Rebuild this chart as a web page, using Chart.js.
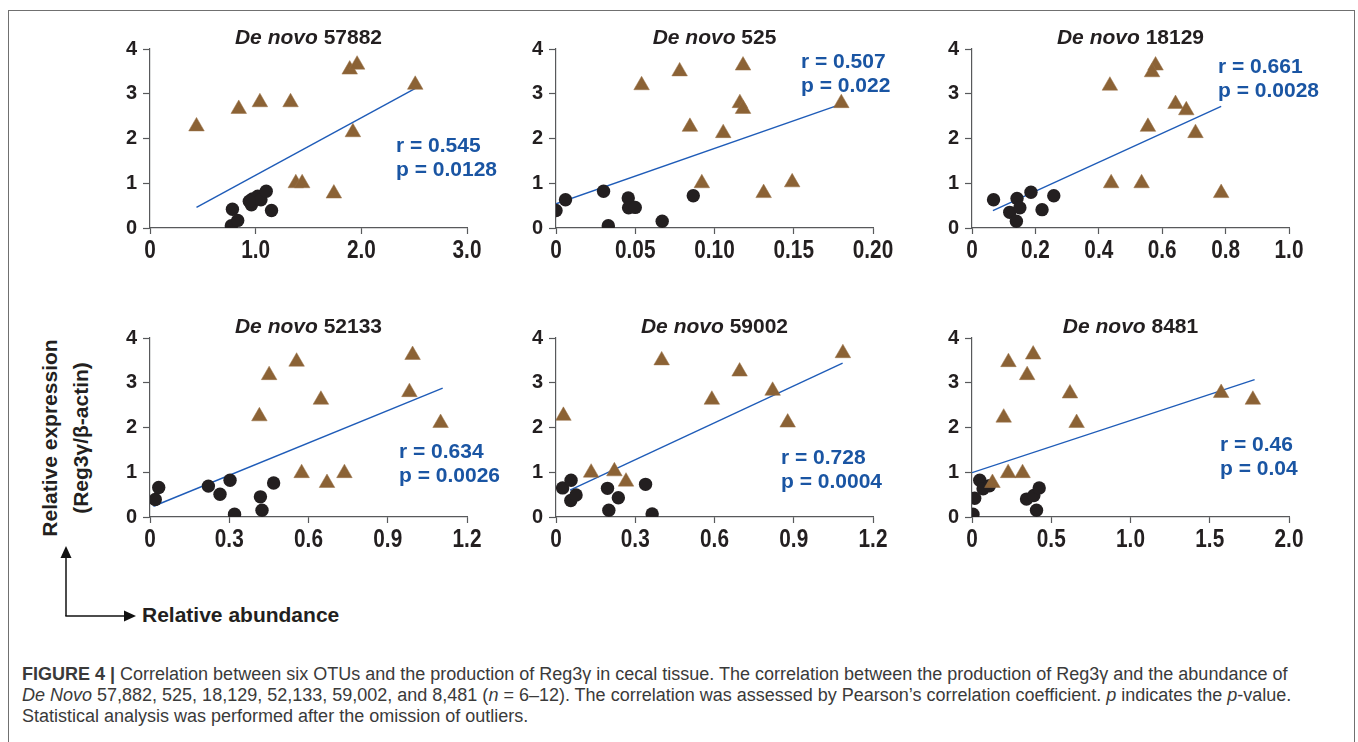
<!DOCTYPE html>
<html>
<head>
<meta charset="utf-8">
<title>Figure 4 - Reg3γ correlation</title>
<script src="https://cdn.jsdelivr.net/npm/chart.js@4.4.1/dist/chart.umd.min.js"></script>
<style>
  html, body { margin: 0; padding: 0; background: #fff; }
  body { width: 1358px; height: 742px; position: relative; overflow: hidden; font-family: "Liberation Sans", Arial, sans-serif; }
  .frame { position: absolute; left: 8px; top: 10px; width: 1347px; height: 800px; border: 1.5px solid #707070; box-sizing: border-box; }
  .panel { position: absolute; width: 387px; height: 240px; }
  .title { position: absolute; width: 317px; text-align: center; font-weight: bold; font-size: 21px; line-height: 21px; color: #231f20; white-space: nowrap; }
  .stat { position: absolute; font-weight: bold; font-size: 21px; line-height: 24px; color: #1a55a3; white-space: nowrap; }
  .ylabel { position: absolute; left: -55px; top: 407px; width: 240px; height: 62px; text-align: center; font-weight: bold; font-size: 21px; line-height: 31px; color: #231f20; transform: rotate(-90deg); white-space: nowrap; }
  .xlabel { position: absolute; left: 142px; top: 603px; font-weight: bold; font-size: 21px; line-height: 24px; color: #231f20; white-space: nowrap; }
  .caption { position: absolute; left: 22px; top: 664px; font-size: 18px; line-height: 21px; color: #3a3a3a; white-space: nowrap; }
</style>
</head>
<body>
<div class="frame"></div>

<div class="ylabel">Relative expression<br>(Reg3γ/β-actin)</div>
<svg style="position:absolute;left:0;top:0" width="200" height="640">
  <line x1="66" y1="557" x2="66" y2="616" stroke="#111" stroke-width="1.5"/>
  <polygon points="66,546 60.5,558 71.5,558" fill="#111"/>
  <line x1="65.3" y1="616" x2="125" y2="616" stroke="#111" stroke-width="1.5"/>
  <polygon points="136,616 124,610.5 124,621.5" fill="#111"/>
</svg>
<div class="xlabel">Relative abundance</div>

<div class="caption"><b>FIGURE 4 |</b> Correlation between six OTUs and the production of Reg3γ in cecal tissue. The correlation between the production of Reg3γ and the abundance of<br><i>De Novo</i> 57,882, 525, 18,129, 52,133, 59,002, and 8,481 (<i>n</i> = 6–12). The correlation was assessed by Pearson’s correlation coefficient. <i>p</i> indicates the <i>p</i>-value.<br>Statistical analysis was performed after the omission of outliers.</div>

<script>
/********************************************
 * Data                  *
 ********************************************/
const yTicks = [0, 1, 2, 3, 4];
const yTickLabels = ['0', '1', '2', '3', '4'];

// De novo 57882
const tri57882 = [[0.44, 2.27], [0.84, 2.66], [1.04, 2.81], [1.33, 2.81], [1.89, 3.54], [1.96, 3.65], [2.51, 3.2], [1.92, 2.14], [1.38, 1.0], [1.44, 1.0], [1.74, 0.77]];
const circ57882 = [[0.78, 0.42], [0.77, 0.05], [0.83, 0.17], [0.97, 0.65], [0.96, 0.52], [1.02, 0.71], [1.05, 0.63], [0.94, 0.6], [1.10, 0.82], [1.15, 0.39]];
const fit57882 = [[0.44, 0.46], [2.52, 3.13]];
const xTicks57882 = [0, 1, 2, 3];
const xLabels57882 = ['0', '1.0', '2.0', '3.0'];

// De novo 525
const tri525 = [[0.054, 3.19], [0.078, 3.5], [0.118, 3.63], [0.116, 2.79], [0.118, 2.66], [0.0845, 2.26], [0.1055, 2.12], [0.092, 1.0], [0.131, 0.78], [0.149, 1.02], [0.180, 2.79]];
const circ525 = [[0.0, 0.39], [0.006, 0.63], [0.030, 0.82], [0.033, 0.05], [0.0456, 0.67], [0.0458, 0.45], [0.050, 0.46], [0.067, 0.15], [0.0866, 0.72]];
const fit525 = [[0.0, 0.54], [0.18, 2.77]];
const xTicks525 = [0, 0.05, 0.10, 0.15, 0.20];
const xLabels525 = ['0', '0.05', '0.10', '0.15', '0.20'];

// De novo 18129
const tri18129 = [[0.435, 3.18], [0.579, 3.63], [0.568, 3.48], [0.642, 2.77], [0.676, 2.63], [0.555, 2.26], [0.705, 2.12], [0.439, 1.0], [0.535, 1.0], [0.786, 0.78]];
const circ18129 = [[0.068, 0.63], [0.119, 0.35], [0.142, 0.66], [0.151, 0.45], [0.140, 0.15], [0.186, 0.8], [0.221, 0.41], [0.258, 0.72]];
const fit18129 = [[0.066, 0.39], [0.786, 2.72]];
const xTicks18129 = [0, 0.2, 0.4, 0.6, 0.8, 1.0];
const xLabels18129 = ['0', '0.2', '0.4', '0.6', '0.8', '1.0'];

// De novo 52133
const tri52133 = [[0.414, 2.25], [0.451, 3.17], [0.555, 3.47], [0.647, 2.62], [0.994, 3.62], [0.982, 2.79], [1.10, 2.1], [0.574, 0.98], [0.67, 0.76], [0.736, 0.98]];
const circ52133 = [[0.02, 0.39], [0.033, 0.66], [0.221, 0.69], [0.265, 0.51], [0.303, 0.82], [0.32, 0.06], [0.418, 0.45], [0.424, 0.15], [0.468, 0.76]];
const fit52133 = [[0.013, 0.24], [1.108, 2.88]];
const xTicks52133 = [0, 0.3, 0.6, 0.9, 1.2];
const xLabels52133 = ['0', '0.3', '0.6', '0.9', '1.2'];

// De novo 59002
const tri59002 = [[0.028, 2.26], [0.40, 3.5], [0.59, 2.62], [0.695, 3.25], [0.82, 2.82], [0.877, 2.11], [1.086, 3.66], [0.133, 0.99], [0.221, 1.02], [0.265, 0.79]];
const circ59002 = [[0.025, 0.65], [0.057, 0.82], [0.056, 0.37], [0.076, 0.49], [0.195, 0.64], [0.20, 0.15], [0.236, 0.43], [0.339, 0.73], [0.364, 0.07]];
const fit59002 = [[0.053, 0.6], [1.085, 3.44]];
const xTicks59002 = [0, 0.3, 0.6, 0.9, 1.2];
const xLabels59002 = ['0', '0.3', '0.6', '0.9', '1.2'];

// De novo 8481
const tri8481 = [[0.2, 2.22], [0.23, 3.46], [0.386, 3.63], [0.348, 3.17], [0.618, 2.76], [0.66, 2.1], [1.572, 2.77], [1.772, 2.62], [0.228, 0.98], [0.319, 0.98], [0.129, 0.76]];
const circ8481 = [[0.006, 0.06], [0.017, 0.42], [0.049, 0.82], [0.07, 0.63], [0.11, 0.7], [0.344, 0.4], [0.39, 0.48], [0.424, 0.65], [0.407, 0.15]];
const fit8481 = [[0.0, 0.99], [1.783, 3.07]];
const xTicks8481 = [0, 0.5, 1.0, 1.5, 2.0];
const xLabels8481 = ['0', '0.5', '1.0', '1.5', '2.0'];

/********************************************
 * Panel layout                              *
 ********************************************/
const panels = [
  { name: '57882', tri: tri57882, circ: circ57882, fit: fit57882, xt: xTicks57882, xl: xLabels57882, r: '0.545', p: '0.0128', left: 100, top: 20, statX: 396, statY: 133 },
  { name: '525',   tri: tri525,   circ: circ525,   fit: fit525,   xt: xTicks525,   xl: xLabels525,   r: '0.507', p: '0.022',  left: 506, top: 20, statX: 801, statY: 49 },
  { name: '18129', tri: tri18129, circ: circ18129, fit: fit18129, xt: xTicks18129, xl: xLabels18129, r: '0.661', p: '0.0028', left: 922, top: 20, statX: 1218, statY: 54 },
  { name: '52133', tri: tri52133, circ: circ52133, fit: fit52133, xt: xTicks52133, xl: xLabels52133, r: '0.634', p: '0.0026', left: 100, top: 309, statX: 399, statY: 439 },
  { name: '59002', tri: tri59002, circ: circ59002, fit: fit59002, xt: xTicks59002, xl: xLabels59002, r: '0.728', p: '0.0004', left: 506, top: 309, statX: 781, statY: 445 },
  { name: '8481',  tri: tri8481,  circ: circ8481,  fit: fit8481,  xt: xTicks8481,  xl: xLabels8481,  r: '0.46',  p: '0.04',   left: 922, top: 309, statX: 1220, statY: 432 }
];

const AXIS = '#58595b';
const toXY = arr => arr.map(d => ({ x: d[0], y: d[1] }));

// x tick labels in the figure are a tall, condensed bold face: draw them squeezed
const condensedXLabels = {
  id: 'condensedXLabels',
  afterDraw(chart, args, opts) {
    const scale = chart.scales.x;
    const ctx = chart.ctx;
    ctx.save();
    ctx.fillStyle = '#231f20';
    ctx.font = 'bold 26px "Liberation Sans", Arial, sans-serif';
    ctx.textAlign = 'center';
    ctx.textBaseline = 'alphabetic';
    opts.values.forEach((v, i) => {
      const px = scale.getPixelForValue(v);
      ctx.save();
      ctx.translate(px, chart.chartArea.bottom + 29.5);
      ctx.scale(0.8, 1);
      ctx.fillText(opts.labels[i], 0, 0);
      ctx.restore();
    });
    ctx.restore();
  }
};

function buildPanel(cfg) {
  const box = document.createElement('div');
  box.className = 'panel';
  box.style.left = cfg.left + 'px';
  box.style.top = cfg.top + 'px';
  const canvas = document.createElement('canvas');
  canvas.width = 387;
  canvas.height = 240;
  box.appendChild(canvas);
  document.body.appendChild(box);

  // title: italic "De novo" + bold number
  const title = document.createElement('div');
  title.className = 'title';
  title.style.left = (cfg.left + 50) + 'px';
  title.style.top = (cfg.top + 6) + 'px';
  title.innerHTML = '<i>De novo</i> ' + cfg.name;
  document.body.appendChild(title);

  const stat = document.createElement('div');
  stat.className = 'stat';
  stat.style.left = cfg.statX + 'px';
  stat.style.top = cfg.statY + 'px';
  stat.innerHTML = 'r = ' + cfg.r + '<br>p = ' + cfg.p;
  document.body.appendChild(stat);

  new Chart(canvas.getContext('2d'), {
    type: 'scatter',
    data: {
      datasets: [
        { data: toXY(cfg.tri), pointStyle: 'triangle', pointRadius: 9, backgroundColor: '#8b6235', borderColor: '#9a7248', borderWidth: 0.5 },
        { data: toXY(cfg.circ), pointStyle: 'circle', pointRadius: 6.7, backgroundColor: '#231f20', borderWidth: 0 },
        { data: toXY(cfg.fit), showLine: true, pointRadius: 0, borderColor: '#1f5cb8', borderWidth: 1.4, fill: false }
      ]
    },
    plugins: [condensedXLabels],
    options: {
      responsive: false,
      animation: false,
      devicePixelRatio: 1,
      layout: { padding: { top: 29, right: 20, left: 0, bottom: 0 } },
      plugins: {
        legend: { display: false },
        tooltip: { enabled: false },
        condensedXLabels: { values: cfg.xt, labels: cfg.xl }
      },
      scales: {
        x: {
          type: 'linear',
          min: cfg.xt[0],
          max: cfg.xt[cfg.xt.length - 1],
          afterBuildTicks: s => { s.ticks = cfg.xt.map(v => ({ value: v })); },
          afterFit: s => { s.height = 32; },
          ticks: { display: false },
          grid: { drawOnChartArea: false, drawTicks: true, tickLength: 6, tickColor: AXIS, tickWidth: 1.2 },
          border: { color: AXIS, width: 1.2 }
        },
        y: {
          type: 'linear',
          min: 0,
          max: 4,
          afterBuildTicks: s => { s.ticks = yTicks.map(v => ({ value: v })); },
          afterFit: s => { s.width = 50; },
          ticks: {
            autoSkip: false, padding: 6, color: '#231f20',
            font: { family: '"Liberation Sans", Arial', size: 20, weight: 'bold' },
            callback: (v, i) => yTickLabels[i]
          },
          grid: { drawOnChartArea: false, drawTicks: true, tickLength: 7, tickColor: AXIS, tickWidth: 1.2 },
          border: { color: AXIS, width: 1.2 }
        }
      }
    }
  });
}

panels.forEach(buildPanel);
</script>
</body>
</html>
